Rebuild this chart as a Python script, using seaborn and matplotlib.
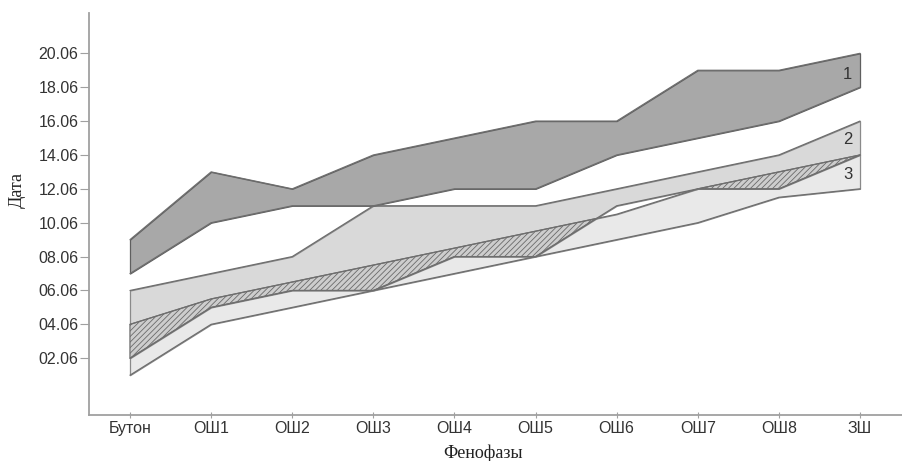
import numpy as np
import pandas as pd
import matplotlib
matplotlib.use("Agg")
import matplotlib.pyplot as plt
import seaborn as sns

# phenophases
phases = ["Бутон", "ОШ1", "ОШ2", "ОШ3", "ОШ4", "ОШ5", "ОШ6", "ОШ7", "ОШ8", "ЗШ"]

# day of June, upper / lower limit of each band
band1_hi = [9, 13, 12, 14, 15, 16, 16, 19, 19, 20]
band1_lo = [7, 10, 11, 11, 12, 12, 14, 15, 16, 18]
band2_hi = [6, 7, 8, 11, 11, 11, 12, 13, 14, 16]
band2_lo = [2, 5, 6, 6, 8, 8, 11, 12, 12, 14]
band3_hi = [4, 5.5, 6.5, 7.5, 8.5, 9.5, 10.5, 12, 13, 14]
band3_lo = [1, 4, 5, 6, 7, 8, 9, 10, 11.5, 12]

y_ticks = [2, 4, 6, 8, 10, 12, 14, 16, 18, 20]
y_labels = ["%02d.06" % d for d in y_ticks]

sns.set_style("white")
plt.rcParams["font.family"] = ["Liberation Sans", "DejaVu Sans"]
plt.rcParams["hatch.linewidth"] = 0.6

x = np.arange(len(phases))
df = pd.DataFrame({
    "x": np.tile(x, 6),
    "day": band1_hi + band1_lo + band2_hi + band2_lo + band3_hi + band3_lo,
    "line": np.repeat(["1h", "1l", "2h", "2l", "3h", "3l"], len(x)),
})

fig = plt.figure(figsize=(9.03, 4.61), dpi=100)
ax = fig.add_axes([0.0986, 0.0998, 0.9014, 0.8727])

b1h, b1l = np.array(band1_hi, float), np.array(band1_lo, float)
b2h, b2l = np.array(band2_hi, float), np.array(band2_lo, float)
b3h, b3l = np.array(band3_hi, float), np.array(band3_lo, float)

#bands
ax.fill_between(x, b3l, b3h, facecolor="#e9e9e9", edgecolor="#8a8a8a", linewidth=0.9)
ax.fill_between(x, b2l, b2h, facecolor="#d9d9d9", edgecolor="#8a8a8a", linewidth=0.9)
ax.fill_between(x, b2l, b3h, where=b3h >= b2l, interpolate=True,
                facecolor="#cdcdcd", edgecolor="#6a6a6a", hatch="//////", linewidth=0.8)
ax.fill_between(x, b1l, b1h, facecolor="#a8a8a8", edgecolor="#5f5f5f", linewidth=0.9)

#band outlines
sns.lineplot(data=df, x="x", y="day", units="line", estimator=None,
             color="#6e6e6e", linewidth=0.9, ax=ax, legend=False)

#band numbers
for lbl, yy in zip(["1", "2", "3"], [18.75, 14.9, 12.85]):
    ax.text(8.85, yy, lbl, ha="center", va="center", fontsize=12, color="#333333")

ax.set_xlim(-0.505, 9.53)
ax.set_ylim(-1.35, 22.4)
ax.set_xticks(x)
ax.set_xticklabels(phases, fontsize=11.5, color="#333333")
ax.set_yticks(y_ticks)
ax.set_yticklabels(y_labels, fontsize=11.5, color="#333333")

ax.set_xlabel("Фенофазы", family=["Liberation Serif", "DejaVu Serif"], fontsize=13, color="#222222")
ax.set_ylabel("Дата", family=["Liberation Serif", "DejaVu Serif"], fontsize=13, color="#222222")
ax.xaxis.set_label_coords(0.484, -0.074)
ax.yaxis.set_label_coords(-0.078, 0.56)

sns.despine(ax=ax, top=True, right=True)
for s in ["left", "bottom"]:
    ax.spines[s].set_color("#a0a0a0")
    ax.spines[s].set_linewidth(1.3)
ax.tick_params(axis="y", left=True, length=6.5, width=0.8, color="#a0a0a0", pad=1)
ax.tick_params(axis="x", bottom=True, direction="inout", length=5, width=0.8, color="#a0a0a0", pad=2)

fig.savefig("out.png", dpi=100)
